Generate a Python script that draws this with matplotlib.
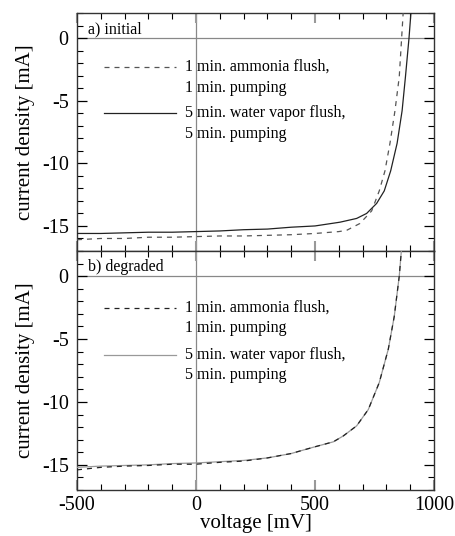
import matplotlib
matplotlib.use("Agg")
import matplotlib.pyplot as plt
from matplotlib.ticker import MultipleLocator
from matplotlib.lines import Line2D

plt.rcParams['font.family'] = ['Liberation Serif', 'DejaVu Serif']
plt.rcParams['axes.unicode_minus'] = False

# ---- data (voltage in mV, current density in mA) ----
v_top_water = [-500, -400, -300, -200, -100, 0, 100, 200, 300, 400, 500, 605, 675, 717,
               759, 791, 818, 845, 866, 880, 895, 905]
j_top_water = [-15.6, -15.6, -15.55, -15.5, -15.5, -15.45, -15.4, -15.3, -15.25, -15.1, -15.0,
               -14.7, -14.4, -14.0, -13.2, -12.2, -10.6, -8.4, -5.8, -3.1, 0.0, 2.5]
v_top_ammonia = [-500, -400, -300, -200, -100, 0, 100, 200, 300, 400, 500, 600, 633, 689,
                 738, 770, 794, 815, 836, 854, 864, 872]
j_top_ammonia = [-16.1, -16.0, -16.0, -15.9, -15.9, -15.85, -15.8, -15.8, -15.75, -15.7, -15.6,
                 -15.45, -15.35, -14.8, -13.8, -12.2, -10.6, -8.4, -5.8, -3.1, 0.0, 2.5]
v_bot = [-500, -400, -300, -200, -100, 0, 100, 200, 300, 400, 437, 493, 577, 619, 675, 724,
         770, 808, 833, 854, 865]
j_bot_water = [-15.2, -15.1, -15.05, -15.0, -14.9, -14.85, -14.75, -14.65, -14.45, -14.1, -13.9,
               -13.6, -13.17, -12.7, -11.9, -10.6, -8.46, -5.8, -3.2, 0.0, 2.5]
j_bot_ammonia = [-15.4, -15.2, -15.1, -15.05, -14.95, -14.95, -14.8, -14.7, -14.45, -14.1, -13.9,
                 -13.6, -13.17, -12.7, -11.9, -10.6, -8.46, -5.8, -3.2, 0.0, 2.5]

panel_titles = ["a) initial", "b) degraded"]
label_ammonia = ["1 min. ammonia flush,", "1 min. pumping"]
label_water = ["5 min. water vapor flush,", "5 min. pumping"]
x_ticks = [-500, 0, 500, 1000]
y_ticks = [0, -5, -10, -15]

fig = plt.figure(figsize=(4.56, 5.36), dpi=100)
left, width = 77 / 456, 357 / 456
ax1 = fig.add_axes([left, 285 / 536, width, 238 / 536])
ax2 = fig.add_axes([left, 46 / 536, width, 239 / 536])

styles = {
    'top': dict(water=dict(color='#222222', lw=0.9), amm=dict(color='#555555', lw=0.9)),
    'bot': dict(water=dict(color='#999999', lw=0.9), amm=dict(color='#222222', lw=0.9)),
}

def setup(ax, title, water_style, amm_style, leg_y):
    ax.set_xlim(-500, 1000)
    ax.set_ylim(-17, 2)
    ax.axhline(0, color='#888888', lw=0.9, zorder=1)
    ax.axvline(0, color='#888888', lw=0.9, zorder=1)
    ax.xaxis.set_major_locator(MultipleLocator(500))
    ax.xaxis.set_minor_locator(MultipleLocator(100))
    ax.yaxis.set_major_locator(MultipleLocator(5))
    ax.yaxis.set_minor_locator(MultipleLocator(1))
    ax.set_yticks(y_ticks)
    ax.tick_params(which='both', direction='in', top=True, right=True, labelsize=14.5, pad=6)
    ax.tick_params(axis='x', which='both', pad=4)
    ax.tick_params(which='major', length=7, width=0.9)
    ax.tick_params(which='minor', length=4.5, width=0.8)
    ax.tick_params(axis='x', which='major', color='#999999', width=1.5)
    for s in ax.spines.values():
        s.set_linewidth(1.0)
        s.set_color('#333333')
    ax.set_ylabel("current density [mA]", fontsize=15, labelpad=5)
    ax.text(0.03, 0.965, title, transform=ax.transAxes, fontsize=11.5, va='top', ha='left')
    # legend drawn manually (handle aligned with first text line)
    y1, y2, y3, y4 = leg_y
    ax.add_line(Line2D([0.0756, 0.277], [y1, y1], transform=ax.transAxes,
                       linestyle=(0, (4, 4)), **amm_style))
    ax.add_line(Line2D([0.0756, 0.277], [y3, y3], transform=ax.transAxes, **water_style))
    for yy, txt in zip([y1, y2, y3, y4], label_ammonia + label_water):
        ax.text(0.3025, yy, txt, transform=ax.transAxes, fontsize=11.5, va='center', ha='left')

setup(ax1, panel_titles[0], styles['top']['water'], styles['top']['amm'],
      [0.773, 0.685, 0.580, 0.492])
ax1.plot(v_top_water, j_top_water, **styles['top']['water'], zorder=3)
ax1.plot(v_top_ammonia, j_top_ammonia, linestyle=(0, (4, 4)), **styles['top']['amm'], zorder=3)
ax1.tick_params(axis='x', labelbottom=False)

setup(ax2, panel_titles[1], styles['bot']['water'], styles['bot']['amm'],
      [0.7615, 0.678, 0.565, 0.481])
ax2.plot(v_bot, j_bot_water, **styles['bot']['water'], zorder=3)
ax2.plot(v_bot, j_bot_ammonia, linestyle=(0, (4, 4)), **styles['bot']['amm'], zorder=3)
ax2.set_xticks(x_ticks)
ax2.set_xticklabels([str(t) for t in x_ticks])
ax2.set_xlabel("voltage [mV]", fontsize=15)
ax2.xaxis.set_label_coords(0.5, -0.1)

fig.savefig("out.png", dpi=100)
